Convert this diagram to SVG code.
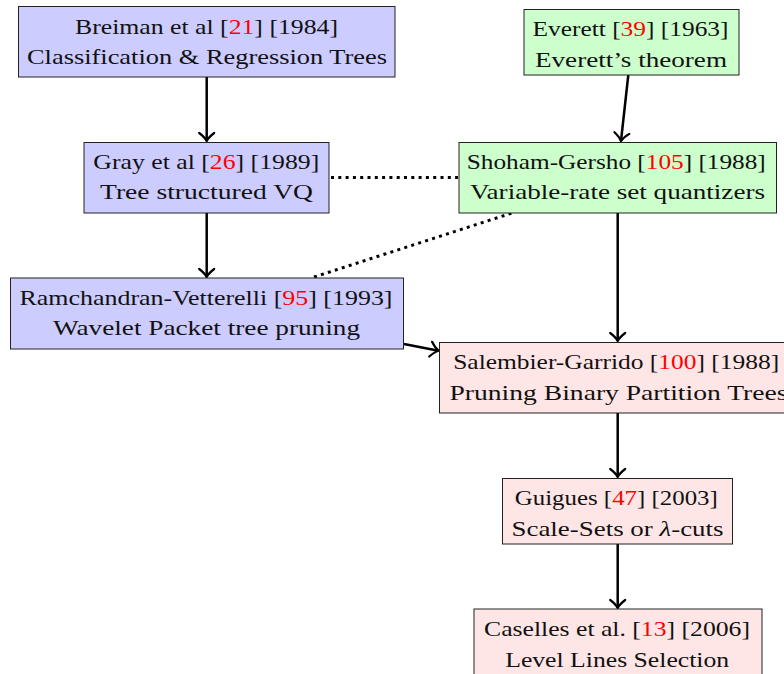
<svg xmlns="http://www.w3.org/2000/svg" width="784" height="674" viewBox="0 0 784 674">
<style>
.box{stroke:#222;stroke-width:1}
.blue{fill:#ccccff}
.green{fill:#ccffcc}
.pink{fill:#ffe6e6}
text{font-family:"Liberation Serif","Times New Roman",serif;font-size:22px;fill:#111;text-anchor:middle}
.r{fill:#ff0000}
.c{fill:none;stroke:#000;stroke-width:2.5}
.d{fill:none;stroke:#000;stroke-width:3;stroke-dasharray:3 4.3}
</style>
<defs>
<marker id="arr" markerUnits="userSpaceOnUse" viewBox="-10 -9 12 18" refX="0" refY="0" markerWidth="12" markerHeight="18" orient="auto" overflow="visible">
<path d="M-8,-7.5 C-5,-3.5 -2,-1 0,0 C-2,1 -5,3.5 -8,7.5" fill="none" stroke="#000" stroke-width="2.2" stroke-linecap="round"/>
</marker>
</defs>
<g id="connectors">
<path class="c" d="M206.7,77 L206.7,141" marker-end="url(#arr)"/>
<path class="c" d="M628.3,75 L621,141" marker-end="url(#arr)"/>
<path class="c" d="M206.7,213 L206.7,277" marker-end="url(#arr)"/>
<path class="d" d="M331,177.5 L458,177.5"/>
<path class="d" d="M314,277 L512,213"/>
<path class="c" d="M617.7,213 L617.7,341" marker-end="url(#arr)"/>
<path class="c" d="M404,344 L438.5,350.7" marker-end="url(#arr)"/>
<path class="c" d="M617.7,413 L617.7,477" marker-end="url(#arr)"/>
<path class="c" d="M617.7,544 L617.7,608" marker-end="url(#arr)"/>
</g>
<g id="breiman">
<rect class="box blue" x="18.5" y="6.5" width="376.5" height="70.5"/>
<text x="206.5" y="33.5" textLength="263" lengthAdjust="spacingAndGlyphs">Breiman et al [<tspan class="r">21</tspan>] [1984]</text>
<text x="207" y="63.5" textLength="360" lengthAdjust="spacingAndGlyphs">Classification &amp; Regression Trees</text>
</g>
<g id="everett">
<rect class="box green" x="524" y="9.5" width="215" height="65.5"/>
<text x="630.5" y="36" textLength="196" lengthAdjust="spacingAndGlyphs">Everett [<tspan class="r">39</tspan>] [1963]</text>
<text x="631" y="66.5" textLength="192" lengthAdjust="spacingAndGlyphs">Everett’s theorem</text>
</g>
<g id="gray">
<rect class="box blue" x="84" y="142.5" width="245" height="70.5"/>
<text x="206.3" y="168.5" textLength="226" lengthAdjust="spacingAndGlyphs">Gray et al [<tspan class="r">26</tspan>] [1989]</text>
<text x="206.5" y="199" textLength="213" lengthAdjust="spacingAndGlyphs">Tree structured VQ</text>
</g>
<g id="shoham">
<rect class="box green" x="459" y="142.5" width="317.5" height="70.5"/>
<text x="616.3" y="168.5" textLength="299" lengthAdjust="spacingAndGlyphs">Shoham-Gersho [<tspan class="r">105</tspan>] [1988]</text>
<text x="617.5" y="199" textLength="295" lengthAdjust="spacingAndGlyphs">Variable-rate set quantizers</text>
</g>
<g id="ramchandran">
<rect class="box blue" x="10.5" y="278" width="393" height="71"/>
<text x="206" y="305" textLength="373" lengthAdjust="spacingAndGlyphs">Ramchandran-Vetterelli [<tspan class="r">95</tspan>] [1993]</text>
<text x="206.5" y="335" textLength="307" lengthAdjust="spacingAndGlyphs">Wavelet Packet tree pruning</text>
</g>
<g id="salembier">
<rect class="box pink" x="439.5" y="342.5" width="355" height="70.5"/>
<text x="616.2" y="368.5" textLength="326" lengthAdjust="spacingAndGlyphs">Salembier-Garrido [<tspan class="r">100</tspan>] [1988]</text>
<text x="618.5" y="399.5" textLength="338" lengthAdjust="spacingAndGlyphs">Pruning Binary Partition Trees</text>
</g>
<g id="guigues">
<rect class="box pink" x="502.5" y="478.5" width="230" height="65.5"/>
<text x="616.3" y="505" textLength="203" lengthAdjust="spacingAndGlyphs">Guigues [<tspan class="r">47</tspan>] [2003]</text>
<text x="617.5" y="536" textLength="212" lengthAdjust="spacingAndGlyphs">Scale-Sets or <tspan font-style="italic">λ</tspan>-cuts</text>
</g>
<g id="caselles">
<rect class="box pink" x="474" y="609" width="288" height="70"/>
<text x="617" y="635.7" textLength="266" lengthAdjust="spacingAndGlyphs">Caselles et al. [<tspan class="r">13</tspan>] [2006]</text>
<text x="617.2" y="666.7" textLength="224" lengthAdjust="spacingAndGlyphs">Level Lines Selection</text>
</g>
</svg>
